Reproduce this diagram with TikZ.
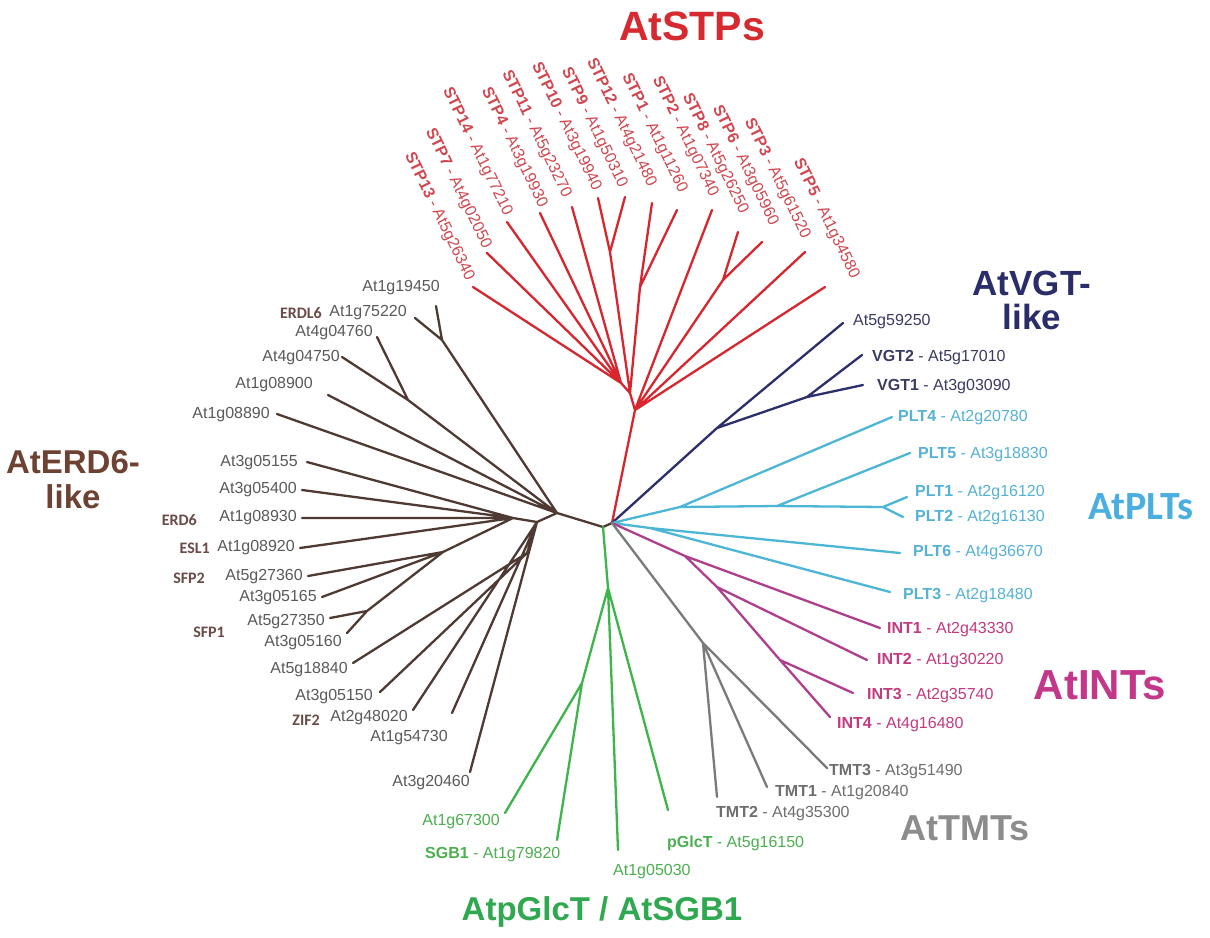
\documentclass[tikz,border=0pt]{standalone}
\usepackage{fontspec}
\setmainfont{Liberation Sans}
\newfontfamily\calib{Carlito}
\definecolor{stpline}{HTML}{D7262E}
\definecolor{stptext}{HTML}{D0474F}
\definecolor{stptitle}{HTML}{D42A30}
\definecolor{erdline}{HTML}{4E3A33}
\definecolor{erdtext}{HTML}{5A5A5A}
\definecolor{erdbold}{HTML}{6B4B47}
\definecolor{erdtitle}{HTML}{6E4232}
\definecolor{vgtline}{HTML}{2C2F6B}
\definecolor{vgttext}{HTML}{3A3C62}
\definecolor{vgttitle}{HTML}{2A2D6A}
\definecolor{pltline}{HTML}{4DB6D6}
\definecolor{plttext}{HTML}{55B2D6}
\definecolor{plttitle}{HTML}{4AAEE0}
\definecolor{intline}{HTML}{AE3F8C}
\definecolor{inttext}{HTML}{C23A80}
\definecolor{inttitle}{HTML}{C2378A}
\definecolor{tmtline}{HTML}{7A7A7A}
\definecolor{tmttext}{HTML}{6E6E6E}
\definecolor{tmttitle}{HTML}{8C8C8C}
\definecolor{glcline}{HTML}{3DB54A}
\definecolor{glctext}{HTML}{4CAF50}
\definecolor{glctitle}{HTML}{2FA84F}
\tikzset{
  edge/.style={line width=2.3pt, line cap=round, line join=round},
  lbl/.style={font=\fontsize{16}{19}\selectfont, inner sep=0pt},
  boldname/.style={font=\calib\bfseries\fontsize{16}{19}\selectfont, inner sep=0pt, text=erdbold},
  stplbl/.style={lbl, text=stptext, anchor=east, rotate=-64},
  ttl/.style={font=\bfseries\fontsize{34}{36}\selectfont, inner sep=0pt, align=center},
}
\begin{document}
\begin{tikzpicture}[x=1pt,y=-1pt]
\fill[white] (0,0) rectangle (1210,937);
\useasboundingbox (0,0) rectangle (1210,937);

% ---------- roots
\coordinate (R0) at (603,527);
\coordinate (RR) at (612,523);

% ---------- ERD6-like coordinates
\coordinate (B0) at (557,513);
\coordinate (B1) at (537,522);
\coordinate (B2) at (513,518);
\coordinate (N1) at (442,340);
\coordinate (N2) at (408,400);
\coordinate (N5) at (443,552);
\coordinate (N6) at (367,611);
\coordinate (N7) at (527,553);
\coordinate (t19450) at (436,306);
\coordinate (t75220) at (415,318);
\coordinate (t04760) at (377,337);
\coordinate (t04750) at (342,357);
\coordinate (t08900) at (328,395);
\coordinate (t08890) at (277,414);
\coordinate (t05155) at (307,462);
\coordinate (t05400) at (302,490);
\coordinate (t08930) at (302,518);
\coordinate (t08920) at (300,548);
\coordinate (t27360) at (308,576);
\coordinate (t05165) at (322,597);
\coordinate (t27350) at (330,618);
\coordinate (t05160) at (347,633);
\coordinate (t18840) at (353,663);
\coordinate (t05150) at (380,692);
\coordinate (t48020) at (413,710);
\coordinate (t54730) at (452,713);
\coordinate (t20460) at (470,772);

% ---------- STP coordinates
\coordinate (S0) at (635,410);
\coordinate (S1) at (630,393);
\coordinate (S2) at (621,383);
\coordinate (S910) at (610,252);
\coordinate (N121) at (640,287);
\coordinate (N86) at (723,280);
\coordinate (tS13) at (473,287);
\coordinate (tS7) at (487,253);
\coordinate (tS14) at (507,222);
\coordinate (tS4) at (540,213);
\coordinate (tS11) at (572,207);
\coordinate (tS10) at (598,198);
\coordinate (tS9) at (625,197);
\coordinate (tS12) at (652,203);
\coordinate (tS1) at (677,210);
\coordinate (tS2) at (712,210);
\coordinate (tS8) at (738,232);
\coordinate (tS6) at (762,242);
\coordinate (tS3) at (805,252);
\coordinate (tS5) at (825,287);

% ---------- VGT
\coordinate (V0) at (717,428);
\coordinate (V1) at (807,397);
\coordinate (tV59250) at (843,323);
\coordinate (tVGT2) at (862,355);
\coordinate (tVGT1) at (863,385);

% ---------- PLT
\coordinate (C0) at (680,507);
\coordinate (C2) at (777,506);
\coordinate (C12) at (883,507);
\coordinate (C3) at (650,528);
\coordinate (tPLT4) at (892,417);
\coordinate (tPLT5) at (910,453);
\coordinate (tPLT1) at (907,497);
\coordinate (tPLT2) at (903,517);
\coordinate (tPLT6) at (900,553);
\coordinate (tPLT3) at (890,592);

% ---------- INT
\coordinate (M0) at (685,556);
\coordinate (M1) at (717,587);
\coordinate (M2) at (780,660);
\coordinate (tINT1) at (880,628);
\coordinate (tINT2) at (867,660);
\coordinate (tINT3) at (853,693);
\coordinate (tINT4) at (830,717);

% ---------- TMT
\coordinate (T0) at (703,643);
\coordinate (tTMT2) at (717,797);
\coordinate (tTMT1) at (767,787);
\coordinate (tTMT3) at (827,768);

% ---------- pGlcT
\coordinate (G0) at (608,588);
\coordinate (G1) at (582,683);
\coordinate (t67300) at (505,813);
\coordinate (tSGB1) at (557,840);
\coordinate (t05030) at (618,850);
\coordinate (tpGlcT) at (668,810);

% ================= edges
\draw[edge,erdline] (R0)--(RR);
\draw[edge,erdline]
  (R0)--(B0) (B0)--(N1) (N1)--(t19450) (N1)--(t75220)
  (B0)--(N2) (N2)--(t04760) (N2)--(t04750)
  (B0)--(t08900) (B0)--(t08890) (B0)--(B1) (B1)--(B2)
  (B2)--(t05155) (B2)--(t05400) (B2)--(t08930) (B2)--(t08920)
  (B2)--(N5) (N5)--(t27360) (N5)--(t05165) (N5)--(N6)
  (N6)--(t27350) (N6)--(t05160)
  (B1)--(N7) (N7)--(t18840) (N7)--(t05150)
  (B1)--(t48020) (B1)--(t54730) (B1)--(t20460);

\draw[edge,stpline]
  (RR)--(S0) (S0)--(S1) (S1)--(S2)
  (S2)--(tS13) (S2)--(tS7) (S2)--(tS14) (S2)--(tS4) (S2)--(tS11)
  (S1)--(S910) (S910)--(tS10) (S910)--(tS9)
  (S1)--(N121) (N121)--(tS12) (N121)--(tS1)
  (S0)--(tS2) (S0)--(N86) (N86)--(tS8) (N86)--(tS6)
  (S0)--(tS3) (S0)--(tS5);

\draw[edge,vgtline]
  (RR)--(V0) (V0)--(tV59250) (V0)--(V1) (V1)--(tVGT2) (V1)--(tVGT1);

\draw[edge,pltline]
  (RR)--(C0) (C0)--(tPLT4) (C0)--(C2) (C2)--(tPLT5) (C2)--(C12)
  (C12)--(tPLT1) (C12)--(tPLT2)
  (RR)--(C3) (C3)--(tPLT6) (C3)--(tPLT3);

\draw[edge,intline]
  (RR)--(M0) (M0)--(tINT1) (M0)--(M1) (M1)--(tINT2) (M1)--(M2)
  (M2)--(tINT3) (M2)--(tINT4);

\draw[edge,tmtline]
  (RR)--(T0) (T0)--(tTMT2) (T0)--(tTMT1) (T0)--(tTMT3);

\draw[edge,glcline]
  (R0)--(G0) (G0)--(G1) (G1)--(t67300) (G1)--(tSGB1)
  (G0)--(t05030) (G0)--(tpGlcT);

% ================= labels: ERD6-like
\begin{scope}[every node/.style={lbl, text=erdtext, anchor=east}]
\node (l19450) at (440,288) {At1g19450};
\node (l75220) at (407,313) {At1g75220};
\node (l04760) at (373,333) {At4g04760};
\node (l04750) at (340,358) {At4g04750};
\node (l08900) at (313,385) {At1g08900};
\node (l08890) at (270,415) {At1g08890};
\node (l05155) at (298,463) {At3g05155};
\node (l05400) at (297,490) {At3g05400};
\node (l08930) at (297,518) {At1g08930};
\node (l08920) at (295,548) {At1g08920};
\node (l27360) at (303,577) {At5g27360};
\node (l05165) at (317,598) {At3g05165};
\node (l27350) at (325,622) {At5g27350};
\node (l05160) at (342,643) {At3g05160};
\node (l18840) at (348,670) {At5g18840};
\node (l05150) at (373,697) {At3g05150};
\node (l48020) at (408,718) {At2g48020};
\node (l54730) at (448,738) {At1g54730};
\node (l20460) at (470,783) {At3g20460};
\end{scope}
\node[boldname, anchor=east] (nERDL6) at (322,313) {ERDL6};
\node[boldname, anchor=east] (nERD6) at (197,520) {ERD6};
\node[boldname, anchor=east] (nESL1) at (210,548) {ESL1};
\node[boldname, anchor=east] (nSFP2) at (205,578) {SFP2};
\node[boldname, anchor=east] (nSFP1) at (225,632) {SFP1};
\node[boldname, anchor=east] (nZIF2) at (320,720) {ZIF2};

% ================= labels: STPs
\node[stplbl] (lS13) at (470,280) {\textbf{STP13} - At5g26340};
\node[stplbl] (lS7)  at (487,248) {\textbf{STP7} - At4g02050};
\node[stplbl] (lS14) at (508,215) {\textbf{STP14} - At1g77210};
\node[stplbl] (lS4)  at (543,207) {\textbf{STP4} - At3g19930};
\node[stplbl] (lS11) at (567,197) {\textbf{STP11} - At5g23270};
\node[stplbl] (lS10) at (597,190) {\textbf{STP10} - At3g19940};
\node[stplbl] (lS9)  at (623,187) {\textbf{STP9} - At1g50310};
\node[stplbl] (lS12) at (652,186) {\textbf{STP12} - At4g21480};
\node[stplbl] (lS1)  at (683,192) {\textbf{STP1} - At1g11260};
\node[stplbl] (lS2)  at (714,196) {\textbf{STP2} - At1g07340};
\node[stplbl] (lS8)  at (744,213) {\textbf{STP8} - At5g26250};
\node[stplbl] (lS6)  at (774,225) {\textbf{STP6} - At3g05960};
\node[stplbl] (lS3)  at (806,238) {\textbf{STP3} - At5g61520};
\node[stplbl] (lS5)  at (855,278) {\textbf{STP5} - At1g34580};

% ================= labels: VGT
\begin{scope}[every node/.style={lbl, text=vgttext, anchor=west}]
\node (lV59250) at (853,322) {At5g59250};
\node (lVGT2) at (872,358) {\textbf{VGT2} - At5g17010};
\node (lVGT1) at (877,387) {\textbf{VGT1} - At3g03090};
\end{scope}

% ================= labels: PLT
\begin{scope}[every node/.style={lbl, text=plttext, anchor=west}]
\node (lPLT4) at (898,418) {\textbf{PLT4} - At2g20780};
\node (lPLT5) at (918,455) {\textbf{PLT5} - At3g18830};
\node (lPLT1) at (915,493) {\textbf{PLT1} - At2g16120};
\node (lPLT2) at (915,518) {\textbf{PLT2} - At2g16130};
\node (lPLT6) at (913,553) {\textbf{PLT6} - At4g36670};
\node (lPLT3) at (903,596) {\textbf{PLT3} - At2g18480};
\end{scope}

% ================= labels: INT
\begin{scope}[every node/.style={lbl, text=inttext, anchor=west}]
\node (lINT1) at (887,630) {\textbf{INT1} - At2g43330};
\node (lINT2) at (877,661) {\textbf{INT2} - At1g30220};
\node (lINT3) at (867,696) {\textbf{INT3} - At2g35740};
\node (lINT4) at (837,725) {\textbf{INT4} - At4g16480};
\end{scope}

% ================= labels: TMT
\begin{scope}[every node/.style={lbl, text=tmttext, anchor=west}]
\node (lTMT3) at (829,772) {\textbf{TMT3} - At3g51490};
\node (lTMT1) at (775,793) {\textbf{TMT1} - At1g20840};
\node (lTMT2) at (716,814) {\textbf{TMT2} - At4g35300};
\end{scope}

% ================= labels: pGlcT / SGB1
\begin{scope}[every node/.style={lbl, text=glctext}]
\node[anchor=east] (l67300) at (500,822) {At1g67300};
\node[anchor=west] (lSGB1) at (425,855) {\textbf{SGB1} - At1g79820};
\node[anchor=west] (l05030) at (613,872) {At1g05030};
\node[anchor=west] (lpGlcT) at (667,843) {\textbf{pGlcT} - At5g16150};
\end{scope}

% ================= titles
\node[ttl, text=stptitle, font=\bfseries\fontsize{41}{41}\selectfont] (tSTP) at (692,26) {AtSTPs};
\node[ttl, text=vgttitle, font=\bfseries\fontsize{35}{34}\selectfont] (tVGT) at (1032,300) {AtVGT-\\like};
\node[ttl, text=erdtitle, font=\bfseries\fontsize{33}{35}\selectfont] (tERD) at (73,480) {AtERD6-\\like};
\node[ttl, text=plttitle, font=\calib\bfseries\fontsize{40}{40}\selectfont] (tPLT) at (1141,507) {AtPLTs};
\node[ttl, text=inttitle, font=\bfseries\fontsize{42}{42}\selectfont] (tINT) at (1100,685) {AtINTs};
\node[ttl, text=tmttitle, font=\bfseries\fontsize{36}{36}\selectfont] (tTMT) at (965,828) {AtTMTs};
\node[ttl, text=glctitle, font=\bfseries\fontsize{33}{33}\selectfont] (tGLC) at (602,912) {AtpGlcT / AtSGB1};
\end{tikzpicture}
\end{document}
